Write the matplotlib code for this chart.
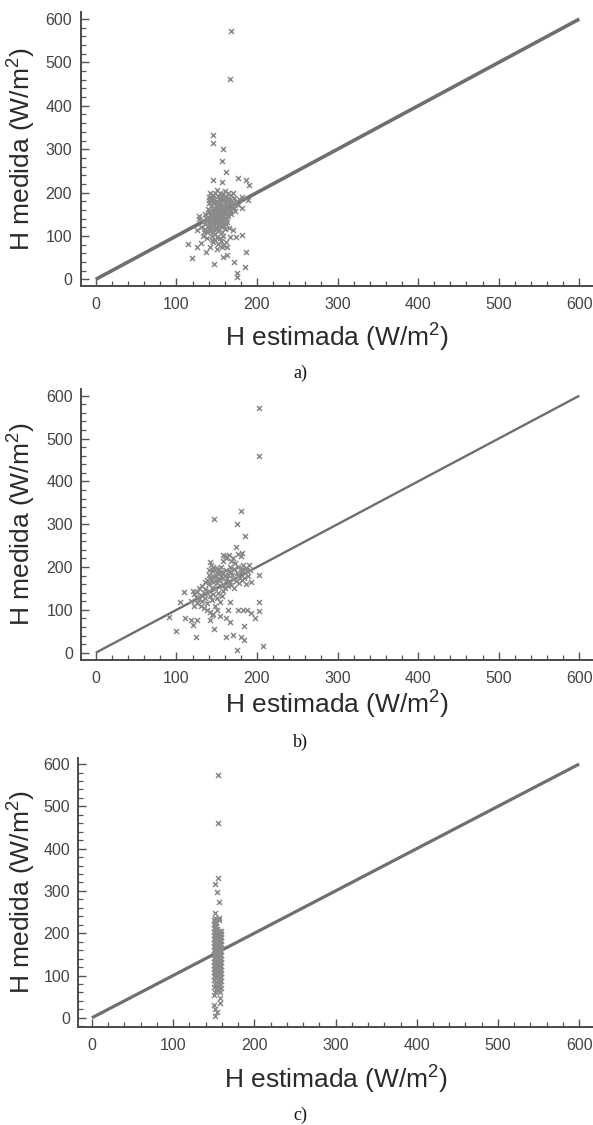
import matplotlib
matplotlib.use("Agg")
import matplotlib.pyplot as plt
from matplotlib.ticker import MultipleLocator

plt.rcParams["mathtext.fontset"] = "custom"
plt.rcParams["mathtext.rm"] = "Liberation Sans"
plt.rcParams["mathtext.it"] = "Liberation Sans:italic"

# Panel a) scatter (H estimada, H medida)
a_x = [168, 166.5, 145, 146, 158, 157, 162, 145, 156, 177, 186, 190, 181, 189, 181,
       115, 119, 125, 130, 137, 147, 158, 163, 172, 175, 175, 186, 185, 181, 167,
       174, 163, 156, 151, 144, 142, 163, 170, 134, 125, 128,
       140, 142, 144, 146, 148, 150, 152, 154, 156, 158, 160, 162, 164, 166, 168, 170, 172, 174, 176, 178,
       140, 143, 145, 147, 149, 151, 153, 155, 157, 159, 161, 163, 165, 167, 169, 171, 173,
       136, 138, 140, 142, 144, 146, 148, 150, 152, 154, 156, 158, 160, 162, 164, 166, 168,
       134, 136, 138, 140, 142, 144, 146, 148, 150, 152, 154, 156, 158, 160, 162,
       135, 138, 140, 142, 144, 146, 148, 150, 152, 154, 156, 158, 160, 165,
       145, 148, 152, 155, 158, 162, 138, 133, 130, 128,
       143, 147, 151, 155, 159, 163, 145, 149, 153, 157, 161, 147, 151, 155, 159,
       141, 145, 149, 153, 157, 161, 165, 169, 139, 143, 147, 151, 155, 159, 163,
       137, 141, 145, 149, 153, 157, 161, 139, 143, 147, 151, 155, 150, 154, 146]
a_y = [573, 461, 332, 315, 300, 273, 247, 229, 225, 233, 229, 217, 190, 183, 164,
       81, 50, 75, 83, 64, 35, 51, 56, 41, 15, 5, 62, 29, 102, 97,
       97, 75, 75, 71, 91, 75, 133, 114, 110, 114, 146,
       190, 198, 185, 195, 200, 205, 192, 198, 188, 196, 203, 190, 199, 185, 194, 200, 188, 178, 172, 185,
       175, 170, 178, 165, 172, 180, 168, 176, 182, 170, 178, 166, 174, 160, 170, 165, 158,
       150, 142, 155, 148, 160, 152, 145, 158, 150, 162, 155, 148, 160, 152, 145, 155, 150,
       135, 128, 138, 130, 122, 135, 128, 118, 132, 125, 138, 120, 130, 142, 128,
       115, 108, 118, 112, 100, 110, 105, 98, 112, 95, 108, 100, 115, 118,
       85, 90, 82, 88, 78, 85, 95, 100, 120, 140,
       186, 176, 163, 170, 156, 183, 140, 135, 143, 138, 150, 125, 118, 130, 122,
       182, 188, 178, 186, 192, 184, 180, 176, 162, 168, 158, 166, 160, 154, 170,
       142, 138, 146, 140, 132, 145, 136, 124, 120, 128, 116, 122, 174, 180, 156]

# Panel b)
b_x = [202.6, 202.6, 180, 147, 175, 185, 174, 181, 203, 203, 203, 198, 207, 175, 184,
       180, 170, 161, 184, 193, 193, 100, 124, 147, 91, 105, 110, 111, 118, 120,
       125, 142, 144, 167, 164, 162, 167, 177, 183, 188, 181, 190, 163, 158, 142,
       120, 122, 124, 126, 128, 130, 132, 134, 136, 138, 140, 142, 144, 146, 148, 150, 152, 154, 156, 158,
       140, 142, 144, 146, 148, 150, 152, 154, 156, 158, 160, 162, 140, 143, 146, 149, 152, 155, 158, 161,
       163, 165, 167, 169, 171, 173, 175, 177, 179, 181, 183, 185, 187, 189, 191, 166, 170, 174, 178, 182,
       160, 162, 165, 168, 170, 176, 180, 158, 186, 160, 164, 168, 172, 130, 134, 138, 142, 146, 150, 154,
       125, 122, 118, 128, 132, 136, 144, 148, 156, 135, 138,
       141, 145, 149, 153, 157, 143, 147, 151, 155, 164, 168, 172, 176, 180, 184, 188]
b_y = [572, 459, 331, 312, 300, 273, 247, 232, 181, 119, 97, 82, 16, 6, 30,
       37, 41, 37, 63, 92, 166, 51, 36, 55, 84, 119, 141, 80, 76, 65,
       76, 76, 88, 119, 100, 80, 72, 100, 100, 100, 193, 205, 224, 228, 212,
       145, 138, 130, 142, 125, 135, 120, 140, 128, 115, 145, 132, 122, 138, 110, 128, 140, 118, 132, 145,
       160, 175, 190, 200, 168, 185, 195, 172, 188, 160, 178, 192, 182, 205, 180, 198, 170, 200, 185, 168,
       175, 190, 200, 182, 195, 210, 185, 200, 175, 195, 205, 185, 198, 180, 192, 165, 172, 168, 162, 170,
       225, 220, 228, 215, 222, 230, 226, 215, 160, 150, 155, 158, 150, 110, 105, 100, 95, 90, 100, 85,
       115, 110, 120, 150, 155, 148, 150, 152, 155, 165, 170,
       192, 165, 178, 188, 175, 170, 192, 162, 180, 182, 188, 195, 178, 188, 175, 190]

# Panel c)
c_x = [155.5, 155.5, 155.5, 151, 154.5, 156, 152, 157, 152, 154.5, 151, 158, 158, 150,
       150, 150, 150, 150, 150, 150, 150, 150, 150, 150, 150, 150, 150, 150, 150, 150, 150, 150, 150,
       151.5, 151.5, 151.5, 151.5, 151.5, 151.5, 151.5, 151.5, 151.5, 151.5, 151.5, 151.5, 151.5, 151.5, 151.5, 151.5, 151.5, 151.5, 151.5,
       153, 153, 153, 153, 153, 153, 153, 153, 153, 153, 153, 153, 153, 153, 153, 153, 153, 153,
       154.5, 154.5, 154.5, 154.5, 154.5, 154.5, 154.5, 154.5, 154.5, 154.5, 154.5, 154.5, 154.5, 154.5, 154.5, 154.5,
       156, 156, 156, 156, 156, 156, 156, 156, 156, 156, 156, 156, 156, 156, 156, 156, 156,
       157.5, 157.5, 157.5, 157.5, 157.5, 157.5, 157.5, 157.5, 157.5, 157.5, 157.5, 157.5, 157.5, 157.5, 157.5, 157.5,
       159, 159, 159, 159, 159, 159, 159, 159, 159, 159, 159, 159, 159, 159, 159, 159]
c_y = [575, 461, 331, 316, 298, 273, 247, 235, 22, 14, 5, 46, 34, 30,
       232, 222, 212, 203, 195, 186, 178, 169, 160, 151, 142, 133, 125, 116, 108, 99, 90, 72, 55,
       235, 227, 220, 211, 203, 194, 186, 177, 168, 159, 150, 141, 133, 124, 116, 107, 98, 80, 62,
       225, 216, 208, 199, 190, 181, 172, 164, 155, 146, 138, 129, 120, 111, 102, 94, 85, 68,
       210, 203, 196, 188, 180, 171, 163, 155, 146, 137, 128, 120, 111, 102, 94, 76,
       232, 205, 197, 188, 179, 170, 161, 152, 144, 135, 127, 118, 109, 100, 91, 82, 65,
       200, 192, 184, 175, 166, 157, 148, 139, 130, 122, 113, 104, 96, 87, 78, 62,
       205, 197, 190, 182, 175, 166, 158, 149, 140, 131, 122, 113, 105, 96, 88, 70]

ref_line = [0, 600]
x_ticks = [0, 100, 200, 300, 400, 500, 600]
y_ticks = [0, 100, 200, 300, 400, 500, 600]

W, H = 593, 1125
fig = plt.figure(figsize=(W / 100, H / 100), dpi=100)

# pixel boxes: left, top, bottom, xlim, ylim, line width, caption, xlabel centre
panels = [
    (a_x, a_y, 80.5, 11.7, 286.0, (-19, 617), (-15.4, 617), 2.6, "a)", 338, 373),
    (b_x, b_y, 81.3, 389.3, 660.0, (-18, 617), (-17, 615), 1.7, "b)", 705, 742),
    (c_x, c_y, 78.3, 757.7, 1026.7, (-16.7, 617), (-21, 615), 2.3, "c)", 1080, 1115),
]

for xs, ys, left, top, bottom, xl, yl, lw, cap, xlab_y, cap_y in panels:
    ax = fig.add_axes([left / W, 1 - bottom / H, (W - left) / W, (bottom - top) / H])
    ax.plot(ref_line, ref_line, color="#6f6f6f", lw=lw, solid_capstyle="butt", zorder=2)
    ax.plot(xs, ys, linestyle="none", marker="x", ms=3.6, mew=1.1, color="#8a8a8a", zorder=3)
    ax.set_xlim(*xl)
    ax.set_ylim(*yl)
    ax.set_xticks(x_ticks)
    ax.set_yticks(y_ticks)
    ax.xaxis.set_minor_locator(MultipleLocator(20))
    ax.yaxis.set_minor_locator(MultipleLocator(20))
    for s in ["top", "right"]:
        ax.spines[s].set_visible(False)
    for s in ["left", "bottom"]:
        ax.spines[s].set_color("#4a4a4a")
        ax.spines[s].set_linewidth(1.4)
    ax.tick_params(which="major", direction="in", length=6, width=1.0, color="#555555",
                   labelsize=11.5, labelcolor="#444444")
    ax.tick_params(which="minor", direction="in", length=3.5, width=0.9, color="#555555")
    ax.tick_params(axis="x", which="major", pad=8)
    ax.tick_params(axis="y", which="major", pad=6)
    for lab in ax.get_xticklabels() + ax.get_yticklabels():
        lab.set_family("Liberation Sans")
    ax.set_xlabel("H estimada (W/m$^2$)", fontsize=19, family="Liberation Sans", color="#2a2a2a",
                  va="center")
    ax.xaxis.set_label_coords(0.5, (bottom - xlab_y) / (bottom - top))
    ax.set_ylabel("H medida (W/m$^2$)", fontsize=19, family="Liberation Sans", color="#2a2a2a",
                  va="center")
    ax.yaxis.set_label_coords((22 - left) / (W - left), 0.5)
    fig.text(300 / W, 1 - cap_y / H, cap, fontsize=13, family="Liberation Serif",
             ha="center", va="center", color="#111111")

fig.savefig("out.png", dpi=100)
